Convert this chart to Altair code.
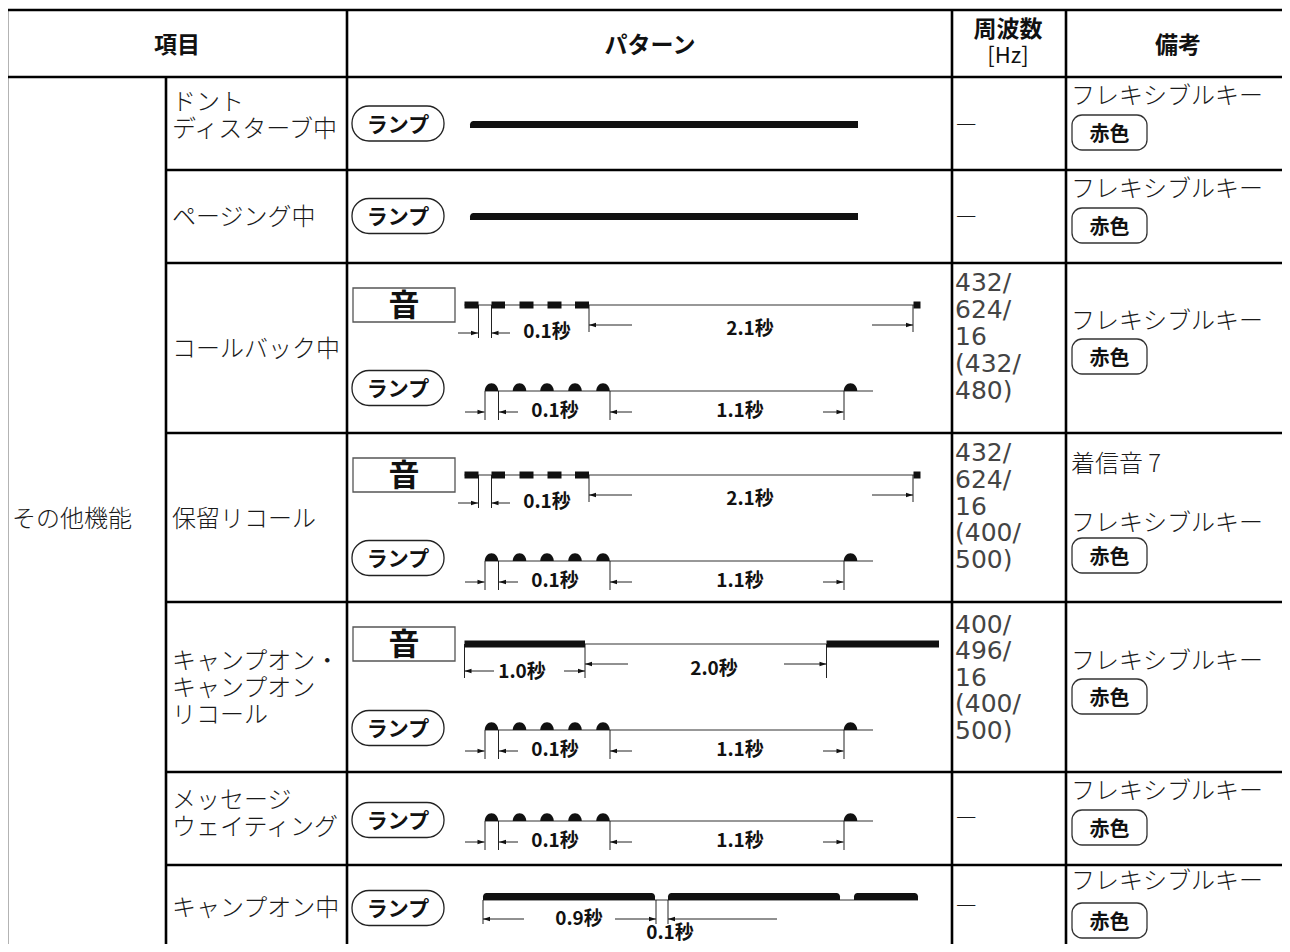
import altair as alt
import pandas as pd

# ---------------- table grid (page pixel coordinates) ----------------
GRID_H_Y = [10, 77, 170, 263, 433, 602, 772, 865]
GRID_H_X1 = [7, 7, 166, 166, 166, 166, 166, 166]
GRID_V_X = [7, 166, 347, 952, 1066]
GRID_V_Y1 = [10, 77, 10, 10, 10]
X_MIN, X_MAX, Y_MIN, Y_MAX = 8, 1282, 8, 944

# ---------------- header / cell texts ----------------
HEAD_BOLD = [("項目", 177, 44), ("パターン", 650, 44), ("周波数", 1008, 28), ("備考", 1178, 44)]
HEAD_NORMAL = [("[Hz]", 1008, 56)]
ITEM_TEXT = [("その他機能", 12, 518), ("ドント", 172, 101), ("ディスターブ中", 172, 128),
             ("ページング中", 172, 216), ("コールバック中", 172, 348), ("保留リコール", 172, 518),
             ("キャンプオン・", 172, 660), ("キャンプオン", 172, 687), ("リコール", 172, 714),
             ("メッセージ", 172, 799), ("ウェイティング", 172, 826), ("キャンプオン中", 172, 907)]
FREQ_TEXT = [("432/", 283), ("624/", 310), ("16", 337), ("(432/", 364), ("480)", 391),
             ("432/", 453), ("624/", 480), ("16", 507), ("(400/", 533), ("500)", 560),
             ("400/", 625), ("496/", 651), ("16", 678), ("(400/", 704), ("500)", 731)]
FREQ_X = 955
DASH_Y = [122, 214, 815, 903]
NOTE_TEXT = [("フレキシブルキー", 95), ("フレキシブルキー", 188), ("フレキシブルキー", 320),
             ("着信音 7", 463), ("フレキシブルキー", 522), ("フレキシブルキー", 660),
             ("フレキシブルキー", 790), ("フレキシブルキー", 880)]
NOTE_X = 1071
RED_BOX_Y = [(115, 150), (208, 243), (339, 374), (538, 573), (679, 714), (810, 845), (903, 938)]
RED_BOX_X = (1072, 1147)

# ---------------- pattern column ----------------
PILL_Y = [123.5, 216, 388, 558, 728, 820, 908]
PILL_X = (352, 444)
PILL_H = 35
SOUND_BOX_Y = [305, 475, 644]
SOUND_BOX_X = (353, 455)
SOUND_BOX_H = 34

# rows 1-2: continuous lamp
LAMP_BAR_X = (470, 858)
LAMP_BAR_Y = [(121, 128), (213, 220)]

# rows 3-4: sound pulses
SOUND_ROWS = [305, 475]
PULSE_X1 = [464.5, 491.5, 519.5, 547.5, 575, 913.5]
PULSE_X2 = [478.5, 505, 533.5, 561.5, 589, 920.5]
SOUND_LINE_X = (464.5, 920)
SOUND_EXT = [(478.5, 33), (491.5, 33), (589, 27), (913, 27)]
SOUND_ARROWS = [(458, 478, 28), (510, 491.5, 28), (632, 589, 20), (872, 913, 20)]
SOUND_LABELS = [("0.1秒", 547, 26), ("2.1秒", 750, 23)]

# rows 3-6: lamp blinking
LAMP_ROWS = [391, 561, 730, 821]
LAMP_BASE_X = (485, 873)
DOME_X = [491.5, 519.5, 547, 575, 603, 850.5]
LAMP_EXT_X = [485, 498.5, 610, 844]
LAMP_EXT_LEN = 29
LAMP_ARROWS = [(465, 484.5), (518, 499), (632, 610), (823, 843.5)]
LAMP_ARROW_DY = 21
LAMP_LABELS = [("0.1秒", 555), ("1.1秒", 740)]
LAMP_LABEL_DY = 19

# row 5: camp-on sound
CO_BASE = 644
CO_BARS = [(464.5, 585), (826.5, 939)]
CO_THIN = (585, 826.5)
CO_EXT_X = [464.5, 585, 826.5]
CO_EXT_LEN = 34
CO_ARROWS = [(494, 464.5, 27), (564, 585, 27), (628, 585, 20), (784, 826.5, 20)]
CO_LABELS = [("1.0秒", 522, 27), ("2.0秒", 714, 24)]

# row 7: camp-on lamp
CW_BARS = [(483, 655), (668, 840), (854, 918)]
CW_BAR_Y = (893, 900)
CW_BASE = (483, 918, 900)
CW_EXT_X = [483, 656, 668]
CW_EXT_Y = (900, 924)
CW_ARROWS = [(524, 483), (615, 656), (777, 668)]
CW_ARROW_Y = 919
CW_LABELS = [("0.9秒", 579, 918), ("0.1秒", 670, 932)]

# ---------------- build tables ----------------
grid_h = pd.DataFrame({"x": GRID_H_X1, "x2": [X_MAX + 2] * len(GRID_H_Y), "y": GRID_H_Y})
grid_v = pd.DataFrame({"x": GRID_V_X, "y": GRID_V_Y1, "y2": [Y_MAX + 2] * len(GRID_V_X)})

pills = pd.DataFrame({"x": [PILL_X[0]] * len(PILL_Y), "x2": [PILL_X[1]] * len(PILL_Y),
                      "y": [c - PILL_H / 2 for c in PILL_Y], "y2": [c + PILL_H / 2 for c in PILL_Y],
                      "cx": [(PILL_X[0] + PILL_X[1]) / 2] * len(PILL_Y), "cy": PILL_Y,
                      "t": ["ランプ"] * len(PILL_Y)})
sboxes = pd.DataFrame({"x": [SOUND_BOX_X[0]] * 3, "x2": [SOUND_BOX_X[1]] * 3,
                       "y": [c - SOUND_BOX_H / 2 for c in SOUND_BOX_Y],
                       "y2": [c + SOUND_BOX_H / 2 for c in SOUND_BOX_Y],
                       "cx": [(SOUND_BOX_X[0] + SOUND_BOX_X[1]) / 2] * 3, "cy": SOUND_BOX_Y,
                       "t": ["音"] * 3})
rboxes = pd.DataFrame({"x": [RED_BOX_X[0]] * len(RED_BOX_Y), "x2": [RED_BOX_X[1]] * len(RED_BOX_Y),
                       "y": [a for a, b in RED_BOX_Y], "y2": [b for a, b in RED_BOX_Y],
                       "cx": [(RED_BOX_X[0] + RED_BOX_X[1]) / 2] * len(RED_BOX_Y),
                       "cy": [(a + b) / 2 for a, b in RED_BOX_Y], "t": ["赤色"] * len(RED_BOX_Y)})

# solid bars
plain_bars = []
for b in SOUND_ROWS:
    for a, c in zip(PULSE_X1, PULSE_X2):
        plain_bars.append({"x": a, "x2": c, "y": b - 3.5, "y2": b + 3.5})
for a, c in CO_BARS:
    plain_bars.append({"x": a, "x2": c, "y": CO_BASE - 3.5, "y2": CO_BASE + 3.5})
plain_bars = pd.DataFrame(plain_bars)
lamp_bars = pd.DataFrame([{"x": LAMP_BAR_X[0], "x2": LAMP_BAR_X[1], "y": a, "y2": c} for a, c in LAMP_BAR_Y])
cw_bars = pd.DataFrame([{"x": a, "x2": c, "y": CW_BAR_Y[0], "y2": CW_BAR_Y[1]} for a, c in CW_BARS])

# thin horizontal lines
thin_h = []
for b in SOUND_ROWS:
    thin_h.append({"x": SOUND_LINE_X[0], "x2": SOUND_LINE_X[1], "y": b})
thin_h.append({"x": CO_THIN[0], "x2": CO_THIN[1], "y": CO_BASE})
for L in LAMP_ROWS:
    thin_h.append({"x": LAMP_BASE_X[0], "x2": LAMP_BASE_X[1], "y": L})
thin_h.append({"x": CW_BASE[0], "x2": CW_BASE[1], "y": CW_BASE[2]})
thin_h = pd.DataFrame(thin_h)

# extension lines
ext_v = []
for b in SOUND_ROWS:
    for x, ln in SOUND_EXT:
        ext_v.append({"x": x, "y": b, "y2": b + ln})
for x in CO_EXT_X:
    ext_v.append({"x": x, "y": CO_BASE, "y2": CO_BASE + CO_EXT_LEN})
for L in LAMP_ROWS:
    for x in LAMP_EXT_X:
        ext_v.append({"x": x, "y": L, "y2": L + LAMP_EXT_LEN})
for x in CW_EXT_X:
    ext_v.append({"x": x, "y": CW_EXT_Y[0], "y2": CW_EXT_Y[1]})
ext_v = pd.DataFrame(ext_v)

# arrows
arrows = []
for b in SOUND_ROWS:
    for f, t, dy in SOUND_ARROWS:
        arrows.append((f, t, b + dy))
for f, t, dy in CO_ARROWS:
    arrows.append((f, t, CO_BASE + dy))
for L in LAMP_ROWS:
    for f, t in LAMP_ARROWS:
        arrows.append((f, t, L + LAMP_ARROW_DY))
for f, t in CW_ARROWS:
    arrows.append((f, t, CW_ARROW_Y))
shafts = pd.DataFrame([{"x": min(f, t), "x2": max(f, t), "y": y} for f, t, y in arrows])
heads_r = pd.DataFrame([{"x": t, "y": y} for f, t, y in arrows if t > f])
heads_l = pd.DataFrame([{"x": t, "y": y} for f, t, y in arrows if t < f])

domes = pd.DataFrame([{"x": x, "y": L} for L in LAMP_ROWS for x in DOME_X])

labels = []
for b in SOUND_ROWS:
    for t, x, dy in SOUND_LABELS:
        labels.append({"t": t, "x": x, "y": b + dy})
for t, x, dy in CO_LABELS:
    labels.append({"t": t, "x": x, "y": CO_BASE + dy})
for L in LAMP_ROWS:
    for t, x in LAMP_LABELS:
        labels.append({"t": t, "x": x, "y": L + LAMP_LABEL_DY})
for t, x, y in CW_LABELS:
    labels.append({"t": t, "x": x, "y": y})
labels = pd.DataFrame(labels)

head_bold = pd.DataFrame(HEAD_BOLD, columns=["t", "x", "y"])
head_norm = pd.DataFrame(HEAD_NORMAL, columns=["t", "x", "y"])
items = pd.DataFrame(ITEM_TEXT, columns=["t", "x", "y"])
freq = pd.DataFrame({"t": [a for a, b in FREQ_TEXT], "x": [FREQ_X] * len(FREQ_TEXT),
                     "y": [b for a, b in FREQ_TEXT]})
dashes = pd.DataFrame({"t": ["—"] * len(DASH_Y), "x": [956] * len(DASH_Y), "y": DASH_Y})
notes = pd.DataFrame({"t": [a for a, b in NOTE_TEXT], "x": [NOTE_X] * len(NOTE_TEXT),
                      "y": [b for a, b in NOTE_TEXT]})

# ---------------- encodings ----------------
XS = alt.Scale(domain=[X_MIN, X_MAX], nice=False, zero=False)
YS = alt.Scale(domain=[Y_MIN, Y_MAX], nice=False, zero=False, reverse=True)


def X(f="x"):
    return alt.X(f"{f}:Q", scale=XS, axis=None)


def Y(f="y"):
    return alt.Y(f"{f}:Q", scale=YS, axis=None)


JP = "Noto Sans CJK JP"
INK = "#111111"


def texts(df, align, size, weight="normal", font=JP, xf="x", yf="y", color="#1a1a1a", dy=2):
    return alt.Chart(df).mark_text(align=align, baseline="middle", font=font, fontSize=size,
                                   fontWeight=weight, color=color, dy=dy).encode(
        x=X(xf), y=Y(yf), text="t:N")


layers = [
    # grid
    alt.Chart(grid_h).mark_rule(strokeWidth=2.6, color="#000").encode(x=X(), x2="x2:Q", y=Y()),
    alt.Chart(grid_v).mark_rule(strokeWidth=2.6, color="#000").encode(x=X(), y=Y(), y2="y2:Q"),
    # boxes
    alt.Chart(pills).mark_rect(fill="white", stroke="#222", strokeWidth=1.3, cornerRadius=17).encode(
        x=X(), x2="x2:Q", y=Y(), y2="y2:Q"),
    alt.Chart(sboxes).mark_rect(fill="white", stroke="#555", strokeWidth=1.3).encode(
        x=X(), x2="x2:Q", y=Y(), y2="y2:Q"),
    alt.Chart(rboxes).mark_rect(fill="white", stroke="#333", strokeWidth=1.3, cornerRadius=10).encode(
        x=X(), x2="x2:Q", y=Y(), y2="y2:Q"),
    # thin lines
    alt.Chart(thin_h).mark_rule(strokeWidth=1.2, color="#333").encode(x=X(), x2="x2:Q", y=Y()),
    alt.Chart(ext_v).mark_rule(strokeWidth=1.0, color="#222").encode(x=X(), y=Y(), y2="y2:Q"),
    alt.Chart(shafts).mark_rule(strokeWidth=1.0, color="#222").encode(x=X(), x2="x2:Q", y=Y()),
    # solid bars
    alt.Chart(plain_bars).mark_rect(color=INK).encode(x=X(), x2="x2:Q", y=Y(), y2="y2:Q"),
    alt.Chart(lamp_bars).mark_rect(color=INK, cornerRadiusTopLeft=5).encode(
        x=X(), x2="x2:Q", y=Y(), y2="y2:Q"),
    alt.Chart(cw_bars).mark_rect(color=INK, cornerRadiusTopLeft=5, cornerRadiusTopRight=5).encode(
        x=X(), x2="x2:Q", y=Y(), y2="y2:Q"),
    # domes and arrow heads
    alt.Chart(domes).mark_point(shape="M-6.75,0A6.75,7.7,0,0,1,6.75,0Z", size=4, filled=True,
                                color=INK, opacity=1, strokeWidth=0).encode(x=X(), y=Y()),
    alt.Chart(heads_r).mark_point(shape="M0,0L-7,-2.3L-7,2.3Z", size=4, filled=True,
                                  color=INK, opacity=1, strokeWidth=0).encode(x=X(), y=Y()),
    alt.Chart(heads_l).mark_point(shape="M0,0L7,-2.3L7,2.3Z", size=4, filled=True,
                                  color=INK, opacity=1, strokeWidth=0).encode(x=X(), y=Y()),
    # texts
    texts(head_bold, "center", 23, "bold", color="#111"),
    texts(head_norm, "center", 22, "normal", color="#111", dy=0),
    texts(items, "left", 24, 300),
    texts(freq, "left", 25, "normal", font="DejaVu Sans", color="#444", dy=0),
    texts(dashes, "left", 23, 300),
    texts(notes, "left", 24, 300),
    texts(pills, "center", 21, "bold", xf="cx", yf="cy", color="#111"),
    texts(sboxes, "center", 31, "bold", xf="cx", yf="cy", color="#111"),
    texts(rboxes, "center", 20, "bold", xf="cx", yf="cy", color="#111"),
    texts(labels, "center", 19, "bold", color="#111", dy=1),
]

chart = alt.layer(*layers).properties(
    width=X_MAX - X_MIN, height=Y_MAX - Y_MIN, padding=0, background="white",
    autosize=alt.AutoSizeParams(type="none"),
).configure_view(stroke=None)

chart.save("out.html", embed_options={"renderer": "svg", "actions": False})
